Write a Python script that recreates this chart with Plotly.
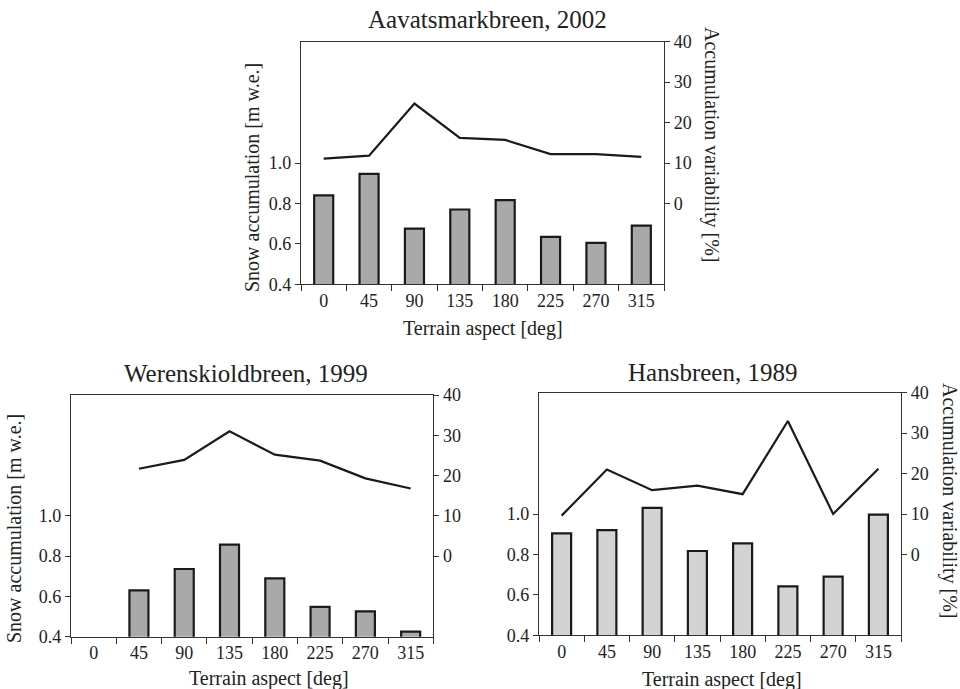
import plotly.graph_objects as go

aspects = ["0", "45", "90", "135", "180", "225", "270", "315"]

# Aavatsmarkbreen, 2002
aav_acc = [0.84, 0.946, 0.675, 0.77, 0.816, 0.635, 0.605, 0.69]
aav_var = [11.1, 11.8, 24.7, 16.2, 15.7, 12.2, 12.2, 11.5]

# Werenskioldbreen, 1999
wer_acc = [None, 0.63, 0.736, 0.857, 0.69, 0.548, 0.526, 0.425]
wer_var = [None, 21.7, 23.9, 31.0, 25.2, 23.7, 19.3, 16.8]

# Hansbreen, 1989
han_acc = [0.904, 0.92, 1.03, 0.817, 0.855, 0.642, 0.69, 0.997]
han_var = [9.6, 21.0, 15.9, 17.0, 14.9, 33.0, 10.0, 21.2]

left_ticks = [0.4, 0.6, 0.8, 1.0]
left_ticktext = ["0.4", "0.6", "0.8", "1.0"]
right_ticks = [0, 10, 20, 30, 40]

TXT = "#222222"
AX = "#333333"
FONT = "Liberation Serif"

W, H = 960, 689

def px_x(x0, x1):
    return [x0 / W, x1 / W]

def px_y(top, bottom):
    return [1 - bottom / H, 1 - top / H]

panels = [
    dict(acc=aav_acc, var=aav_var, color="#a9a9a9",
         xd=px_x(301, 664), yd=px_y(41.7, 284.3)),
    dict(acc=wer_acc, var=wer_var, color="#a9a9a9",
         xd=px_x(71, 433.3), yd=px_y(395, 636.7)),
    dict(acc=han_acc, var=han_var, color="#d3d3d3",
         xd=px_x(539, 901), yd=px_y(392.7, 635.3)),
]

fig = go.Figure()
layout = {}
for i, p in enumerate(panels):
    xn = "" if i == 0 else str(i + 1)
    yl = str(2 * i + 1) if i > 0 else ""
    yr = str(2 * i + 2)
    fig.add_trace(go.Bar(x=aspects, y=p["acc"], xaxis="x" + xn, yaxis="y" + yl,
                         marker=dict(color=p["color"], line=dict(color="#1a1a1a", width=2.2)),
                         width=0.42, showlegend=False))
    fig.add_trace(go.Scatter(x=aspects, y=p["var"], xaxis="x" + xn, yaxis="y" + yr,
                             mode="lines", line=dict(color="#1a1a1a", width=2.2),
                             connectgaps=False, showlegend=False))
    layout["xaxis" + xn] = dict(
        domain=p["xd"], anchor="y" + yl, type="category",
        categoryorder="array", categoryarray=aspects,
        tickson="boundaries", ticks="outside", ticklen=6, tickcolor=AX,
        showline=True, linecolor=AX, linewidth=1.3, mirror=True,
        showgrid=False, zeroline=False, automargin=False,
        tickfont=dict(family=FONT, size=18, color=TXT))
    layout["yaxis" + yl] = dict(
        domain=p["yd"], anchor="x" + xn, range=[0.4, 1.6],
        tickvals=left_ticks, ticktext=left_ticktext,
        ticks="outside", ticklen=5, tickcolor=AX,
        showline=True, linecolor=AX, linewidth=1.3,
        showgrid=False, zeroline=False, automargin=False,
        tickfont=dict(family=FONT, size=18, color=TXT))
    layout["yaxis" + yr] = dict(
        overlaying="y" + yl, anchor="x" + xn, side="right", range=[-20, 40],
        tickvals=right_ticks, ticks="outside", ticklen=5, tickcolor=AX,
        showline=True, linecolor=AX, linewidth=1.3,
        showgrid=False, zeroline=False, automargin=False,
        tickfont=dict(family=FONT, size=18, color=TXT))

def ann(text, x, y, size, angle=0):
    return dict(text=text, x=x / W, y=1 - y / H, xref="paper", yref="paper",
                showarrow=False, textangle=angle, xanchor="center", yanchor="middle",
                font=dict(family=FONT, size=size, color=TXT))

annotations = [
    ann("Aavatsmarkbreen, 2002", 487, 20, 25),
    ann("Werenskioldbreen, 1999", 246, 373, 25),
    ann("Hansbreen, 1989", 712, 372, 25),
    ann("Terrain aspect [deg]", 483, 328, 20),
    ann("Terrain aspect [deg]", 269, 678, 20),
    ann("Terrain aspect [deg]", 722, 679, 20),
    ann("Snow accumulation [m w.e.]", 252, 178, 20, -90),
    ann("Snow accumulation [m w.e.]", 14, 529, 20, -90),
    ann("Accumulation variability [%]", 712, 144, 20, 90),
    ann("Accumulation variability [%]", 950, 500, 20, 90),
]

fig.update_layout(**layout)
fig.update_layout(template="none", width=W, height=H,
                  margin=dict(l=0, r=0, t=0, b=0, pad=0, autoexpand=False),
                  paper_bgcolor="white", plot_bgcolor="white",
                  bargap=0.5, annotations=annotations,
                  font=dict(family=FONT, color=TXT))
fig.write_html("out.html", config={"displayModeBar": False},
               post_script="document.body.style.margin='0';document.body.style.overflow='hidden';")
